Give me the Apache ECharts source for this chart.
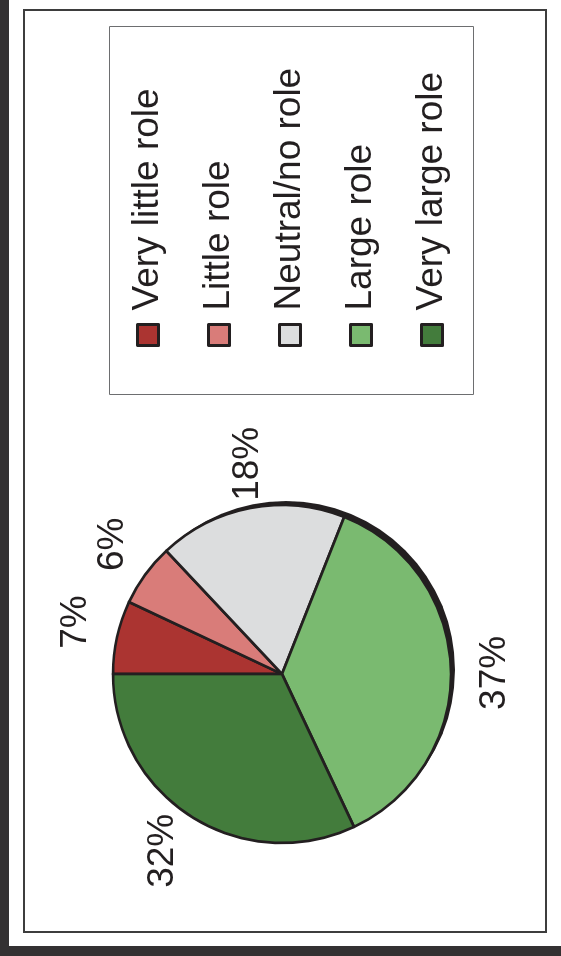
<!DOCTYPE html>
<html>
<head>
<meta charset="utf-8">
<script src="https://cdn.jsdelivr.net/npm/echarts@6/dist/echarts.min.js"></script>
<style>
  html, body { margin: 0; padding: 0; width: 561px; height: 956px; overflow: hidden; background: #333132; }
  /* the chart is laid out in landscape and turned a quarter turn counter-clockwise */
  #chart {
    position: absolute; left: 0; top: 0;
    width: 946px; height: 552px; background: #ffffff;
    transform-origin: 0 0;
    transform: translate(9px, 946px) rotate(-90deg);
  }
</style>
</head>
<body>
<div id="chart"></div>
<script>
const categories = ['Very little role', 'Little role', 'Neutral/no role', 'Large role', 'Very large role'];
const shares = [7, 6, 18, 37, 32];
const sliceColors = ['#ab3431', '#d97c79', '#dcddde', '#7aba70', '#437c3c'];

const ink = '#231f20';
const fontFamily = "'Liberation Sans', Arial, Helvetica, sans-serif";
const pieCenter = [272, 273];
const pieRadius = 169;
const rimOffset = 4;

const total = shares.reduce((a, b) => a + b, 0);

const chart = echarts.init(document.getElementById('chart'), null, { renderer: 'canvas' });

chart.setOption({
  animation: false,
  backgroundColor: '#ffffff',
  graphic: [
    { type: 'rect', silent: true, shape: { x: 14, y: 15, width: 922, height: 522 },
      style: { fill: 'none', stroke: '#3d3d3d', lineWidth: 2 } },
    { type: 'rect', silent: true, shape: { x: 551.5, y: 100.5, width: 368, height: 364 },
      style: { fill: 'none', stroke: '#6d6e70', lineWidth: 1 } }
  ],
  legend: {
    data: categories,
    orient: 'vertical',
    left: 594,
    top: 114,
    itemWidth: 21,
    itemHeight: 21,
    itemGap: 31,
    icon: 'rect',
    selectedMode: false,
    itemStyle: { borderColor: ink, borderWidth: 3 },
    textStyle: { fontFamily: fontFamily, fontSize: 37, color: ink, lineHeight: 40, padding: [0, 0, 0, 9] }
  },
  series: [
    {
      // dark rim behind the pie
      type: 'pie',
      silent: true,
      center: [pieCenter[0] + rimOffset, pieCenter[1] + rimOffset],
      radius: pieRadius,
      startAngle: 90,
      label: { show: false },
      labelLine: { show: false },
      itemStyle: { color: ink },
      emphasis: { disabled: true },
      data: [{ value: total, name: 'rim' }]
    },
    {
      type: 'pie',
      center: pieCenter,
      radius: pieRadius,
      startAngle: 90,
      clockwise: true,
      avoidLabelOverlap: false,
      label: { show: false },
      labelLine: { show: false },
      itemStyle: { borderColor: ink, borderWidth: 2.7 },
      emphasis: { disabled: true },
      data: categories.map((name, i) => ({ name: name, value: shares[i], itemStyle: { color: sliceColors[i] } }))
    },
    {
      // percentage labels on a transparent ring outside the pie
      type: 'pie',
      silent: true,
      center: pieCenter,
      radius: [200, 220],
      startAngle: 88.5,
      clockwise: true,
      avoidLabelOverlap: false,
      itemStyle: { color: 'transparent', borderWidth: 0 },
      emphasis: { disabled: true },
      labelLine: { show: false },
      label: {
        show: true,
        position: 'inside',
        rotate: 0,
        formatter: '{c}%',
        fontFamily: fontFamily,
        fontSize: 37,
        color: ink
      },
      data: shares.map(v => ({ value: v }))
    }
  ]
});
</script>
</body>
</html>
